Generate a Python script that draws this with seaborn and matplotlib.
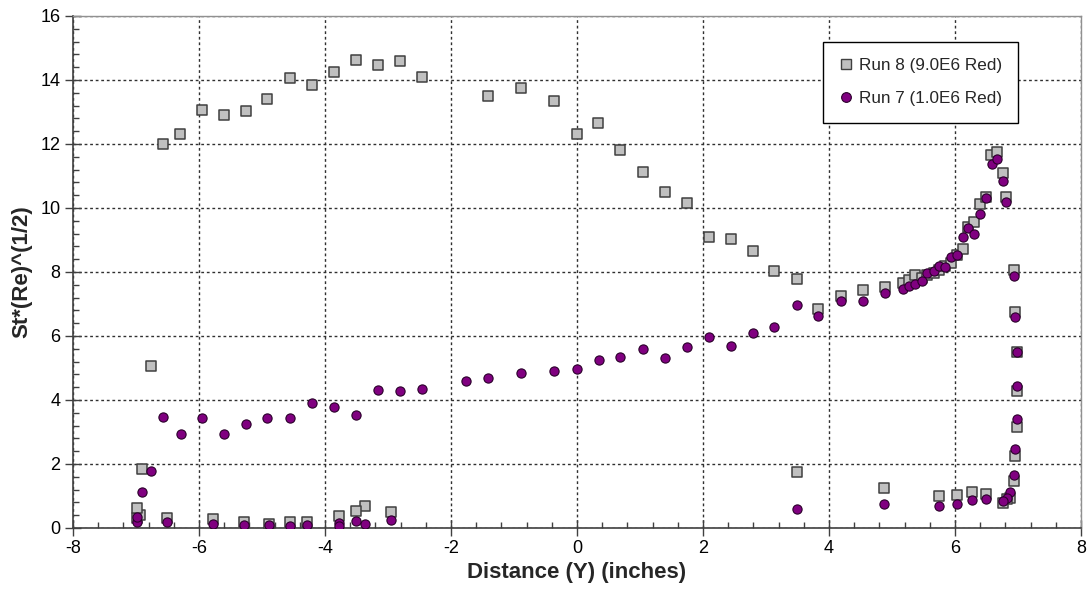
import matplotlib
matplotlib.use("Agg")
import matplotlib.pyplot as plt
from matplotlib.ticker import MultipleLocator
from matplotlib.lines import Line2D
import numpy as np
import pandas as pd
import seaborn as sns

# Run 8 (9.0E6 Red)
run8_x = [-6.57, -6.30, -5.95, -5.60, -5.25, -4.92, -4.55, -4.21, -3.85, -3.51,
          -3.16, -2.81, -2.46, -1.41, -0.89, -0.36, 0.00, 0.34, 0.68, 1.05,
          1.39, 1.74, 2.09, 2.44, 2.79, 3.13, 3.49, 3.83, 4.19, 4.54,
          4.89, 5.17, 5.27, 5.37, 5.47, 5.56, 5.66, 5.75, 5.84, 5.94,
          6.03, 6.12, 6.21, 6.30, 6.39, 6.49, 6.57, 6.67, 6.76, 6.81,
          6.93, 6.96, 6.98, 6.98, 6.98, 6.96, 6.93, 6.87, 6.83, 6.77,
          6.49, 6.27, 6.03, 5.75, 4.88, 3.49,
          -2.95, -3.36, -3.51, -3.77, -4.29, -4.55, -4.89, -5.28, -5.77, -6.51,
          -6.99, -6.94, -6.99, -6.91, -6.76]
run8_y = [12.00, 12.30, 13.06, 12.90, 13.03, 13.40, 14.07, 13.84, 14.25, 14.64,
          14.47, 14.58, 14.10, 13.51, 13.74, 13.34, 12.30, 12.67, 11.82, 11.11,
          10.50, 10.17, 9.09, 9.04, 8.65, 8.03, 7.78, 6.83, 7.25, 7.44,
          7.53, 7.67, 7.75, 7.91, 7.82, 7.91, 7.96, 8.06, 8.19, 8.29,
          8.53, 8.71, 9.40, 9.56, 10.11, 10.35, 11.66, 11.74, 11.10, 10.33,
          8.06, 6.74, 5.50, 4.29, 3.16, 2.26, 1.47, 0.93, 0.91, 0.77,
          1.06, 1.11, 1.04, 1.01, 1.26, 1.74,
          0.51, 0.68, 0.53, 0.39, 0.20, 0.19, 0.11, 0.20, 0.28, 0.32,
          0.30, 0.40, 0.61, 1.85, 5.05]

# Run 7 (1.0E6 Red)
run7_x = [-6.57, -6.29, -5.95, -5.60, -5.25, -4.92, -4.55, -4.21, -3.86, -3.51,
          -3.16, -2.81, -2.46, -1.76, -1.41, -0.89, -0.36, 0.00, 0.35, 0.68,
          1.05, 1.39, 1.74, 2.09, 2.44, 2.79, 3.13, 3.49, 3.83, 4.19,
          4.54, 4.89, 5.17, 5.27, 5.37, 5.47, 5.56, 5.66, 5.75, 5.84,
          5.93, 6.03, 6.12, 6.21, 6.30, 6.39, 6.49, 6.58, 6.67, 6.76,
          6.81, 6.93, 6.96, 6.98, 6.98, 6.98, 6.96, 6.93, 6.87, 6.82,
          6.77, 6.49, 6.27, 6.03, 5.75, 4.88, 3.49,
          -2.95, -3.36, -3.51, -3.77, -3.77, -4.29, -4.55, -4.89, -5.28, -5.77,
          -6.51, -6.98, -6.99, -6.90, -6.76]
run7_y = [3.46, 2.95, 3.43, 2.95, 3.25, 3.43, 3.43, 3.90, 3.79, 3.53,
          4.32, 4.27, 4.35, 4.60, 4.69, 4.83, 4.92, 4.96, 5.25, 5.35,
          5.59, 5.32, 5.65, 5.96, 5.68, 6.09, 6.27, 6.97, 6.63, 7.08,
          7.10, 7.33, 7.46, 7.57, 7.61, 7.73, 7.98, 8.04, 8.20, 8.17,
          8.46, 8.53, 9.10, 9.36, 9.18, 9.81, 10.30, 11.38, 11.52, 10.83,
          10.19, 7.87, 6.59, 5.50, 4.44, 3.40, 2.46, 1.66, 1.11, 0.93,
          0.84, 0.90, 0.86, 0.75, 0.70, 0.76, 0.58,
          0.25, 0.14, 0.21, 0.17, 0.06, 0.08, 0.07, 0.10, 0.10, 0.14,
          0.20, 0.18, 0.35, 1.13, 1.79]

run8_label = "Run 8 (9.0E6 Red)"
run7_label = "Run 7 (1.0E6 Red)"

sns.set_theme(style="white")
plt.rcParams["font.family"] = ["Liberation Sans", "DejaVu Sans"]

fig = plt.figure(figsize=(10.91, 5.97), dpi=100)
ax = fig.add_axes([0.0669, 0.1156, 0.9239, 0.8576])

sq_face = "#c0c0c0"
sq_edge = "#404040"
dot_face = "#800080"
dot_edge = "#2a002a"

sns.scatterplot(x=run8_x, y=run8_y, ax=ax, marker="s", s=56, color=sq_face,
                edgecolor=sq_edge, linewidth=1.1, zorder=3)
sns.scatterplot(x=run7_x, y=run7_y, ax=ax, marker="o", s=44, color=dot_face,
                edgecolor=dot_edge, linewidth=0.8, zorder=4)

ax.set_xlim(-8, 8)
ax.set_ylim(0, 16)
ax.xaxis.set_major_locator(MultipleLocator(2))
ax.yaxis.set_major_locator(MultipleLocator(2))
ax.xaxis.set_minor_locator(MultipleLocator(0.4))
ax.yaxis.set_minor_locator(MultipleLocator(0.4))

ax.grid(True, which="major", linestyle=(0, (2, 2)), color="#303030", linewidth=1.0)
ax.set_axisbelow(True)

for side in ("top", "right"):
    ax.spines[side].set_color("#909090")
    ax.spines[side].set_linewidth(1.0)
for side in ("left", "bottom"):
    ax.spines[side].set_color("#404040")
    ax.spines[side].set_linewidth(1.2)

ax.tick_params(axis="both", which="major", direction="inout", length=12, width=1.0,
               color="#404040", labelsize=13, labelcolor="black", pad=3)
ax.tick_params(axis="both", which="minor", direction="in", length=4, width=1.0,
               color="#404040")
ax.tick_params(axis="x", which="both", bottom=True, top=False)
ax.tick_params(axis="y", which="both", left=True, right=False)
ax.set_xticks(np.arange(-8, 9, 2))
ax.set_xticklabels([f"{v:d}" for v in range(-8, 9, 2)])
ax.set_yticks(np.arange(0, 17, 2))
ax.set_yticklabels([f"{v:d}" for v in range(0, 17, 2)])

ax.set_xlabel("Distance (Y) (inches)", fontsize=16, fontweight="bold", labelpad=3)
ax.set_ylabel("St*(Re)^(1/2)", fontsize=16, fontweight="bold", labelpad=6)

handles = [
    Line2D([], [], linestyle="none", marker="s", markersize=7.5,
           markerfacecolor=sq_face, markeredgecolor=sq_edge, markeredgewidth=1.0),
    Line2D([], [], linestyle="none", marker="o", markersize=7,
           markerfacecolor=dot_face, markeredgecolor=dot_edge, markeredgewidth=0.8),
]
leg = ax.legend(handles, [run8_label, run7_label], loc="upper right",
                bbox_to_anchor=(0.9375, 0.949), fontsize=12.3, frameon=True,
                fancybox=False, framealpha=1, edgecolor="black",
                handlelength=0.8, handletextpad=0.35, borderpad=0.95,
                labelspacing=1.05, borderaxespad=0)
leg.get_frame().set_linewidth(1.0)

fig.savefig("out.png", dpi=100, facecolor="white")
